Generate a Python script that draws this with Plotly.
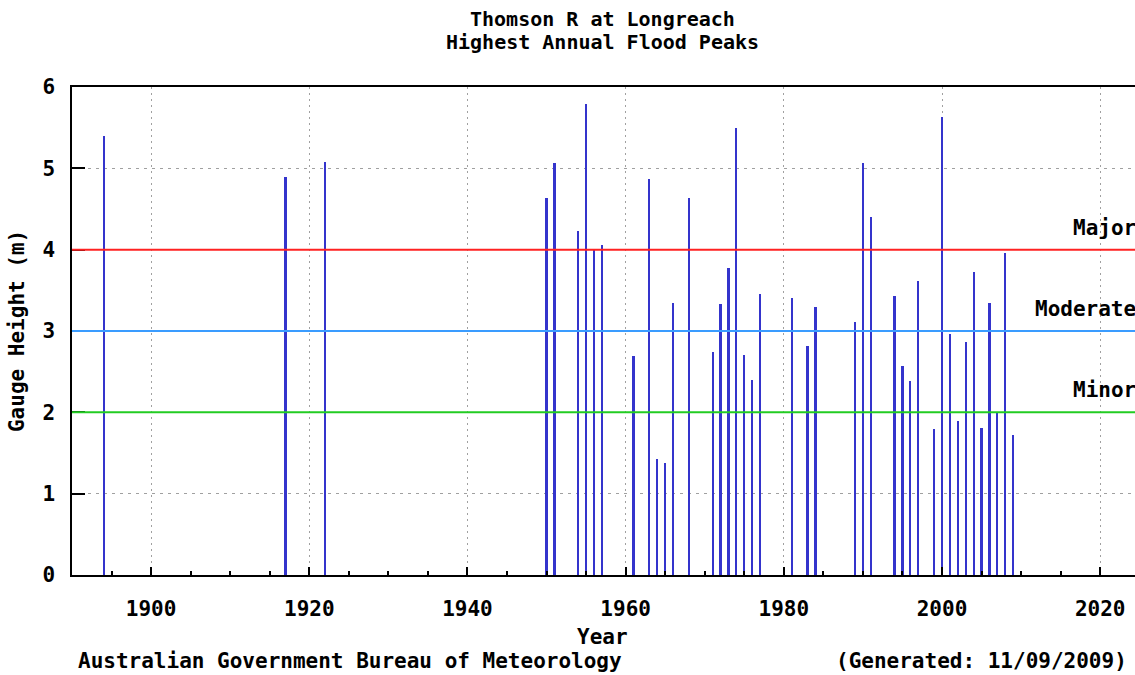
import plotly.graph_objects as go

# ---- data ----
years = [1894, 1917, 1922, 1950, 1951, 1954, 1955, 1956, 1957, 1961, 1963, 1964,
         1965, 1966, 1968, 1971, 1972, 1973, 1974, 1975, 1976, 1977, 1981, 1983,
         1984, 1989, 1990, 1991, 1994, 1995, 1996, 1997, 1999, 2000, 2001, 2002,
         2003, 2004, 2005, 2006, 2007, 2008, 2009]
heights = [5.40, 4.89, 5.08, 4.64, 5.06, 4.23, 5.79, 4.00, 4.06, 2.69, 4.87, 1.43,
           1.38, 3.35, 4.64, 2.74, 3.33, 3.77, 5.50, 2.70, 2.40, 3.45, 3.40, 2.81,
           3.30, 3.11, 5.06, 4.40, 3.43, 2.57, 2.38, 3.62, 1.79, 5.63, 2.96, 1.89,
           2.86, 3.72, 1.81, 3.35, 2.00, 3.96, 1.72]

flood_names = ["Major", "Moderate", "Minor"]
flood_levels = [4, 3, 2]
flood_colors = ["#ff2222", "#3a9cff", "#22cc22"]

x_range = [1890, 2024.4]
y_range = [0, 6]
x_ticks = [1900, 1920, 1940, 1960, 1980, 2000, 2020]
y_ticks = [0, 1, 2, 3, 4, 5, 6]

title_lines = ["Thomson R at Longreach", "Highest Annual Flood Peaks"]
x_title = "Year"
y_title = "Gauge Height (m)"
footer_left = "Australian Government Bureau of Meteorology"
footer_right = "(Generated: 11/09/2009)"

FONT = "DejaVu Sans Mono"
FS = 21
font = dict(family=FONT, size=FS, color="black", weight="bold")
title_font = dict(family=FONT, size=20, color="black", weight="bold")

fig = go.Figure()

fig.add_trace(go.Bar(
    x=years, y=heights, width=0.28,
    marker=dict(color="#3434cc", line=dict(width=0)),
    hoverinfo="x+y", showlegend=False,
))

for name, lvl, col in zip(flood_names, flood_levels, flood_colors):
    fig.add_shape(type="line", xref="paper", x0=0, x1=1, yref="y", y0=lvl, y1=lvl,
                  line=dict(color=col, width=2), layer="above")
    fig.add_annotation(text=name, xref="paper", x=1.0025, xanchor="right",
                       yref="y", y=lvl, yanchor="middle", yshift=22,
                       showarrow=False, font=font)

# titles & footers
fig.add_annotation(text=title_lines[0], xref="paper", yref="paper", x=0.4995,
                   y=(574.6 - 19) / 487.5,
                   xanchor="center", yanchor="middle", showarrow=False, font=title_font)
fig.add_annotation(text=title_lines[1], xref="paper", yref="paper", x=0.4995,
                   y=(574.6 - 42) / 487.5,
                   xanchor="center", yanchor="middle", showarrow=False, font=title_font)
fig.add_annotation(text=x_title, xref="paper", yref="paper", x=0.4995, y=-0.128,
                   xanchor="center", yanchor="middle", showarrow=False, font=font)
fig.add_annotation(text=y_title, xref="paper", yref="paper", x=-0.0517, y=0.5,
                   xanchor="center", yanchor="middle", textangle=-90,
                   showarrow=False, font=font)
fig.add_annotation(text=footer_left, xref="paper", yref="paper", x=0.0035,
                   y=(574.6 - 661) / 487.5,
                   xanchor="left", yanchor="middle", showarrow=False, font=font)
fig.add_annotation(text=footer_right, xref="paper", yref="paper", x=0.9945,
                   y=(574.6 - 661) / 487.5,
                   xanchor="right", yanchor="middle", showarrow=False, font=font)

fig.update_layout(
    width=1135, height=675,
    margin=dict(l=72, r=0, t=87, b=100, pad=0),
    paper_bgcolor="white", plot_bgcolor="white",
    font=font,
    bargap=0,
)
fig.update_xaxes(
    range=x_range, tickvals=x_ticks, ticktext=[str(v) for v in x_ticks],
    ticks="inside", ticklen=8, tickwidth=1.5, tickcolor="black",
    showline=True, linecolor="black", linewidth=1.5, mirror=True,
    showgrid=True, gridcolor="#a0a0a0", gridwidth=1, griddash="2px,4px",
    zeroline=False, ticklabelstandoff=14, tickfont=font,
    minor=dict(dtick=5, tick0=1890, ticks="inside", ticklen=4, tickwidth=1.5,
               tickcolor="black", showgrid=False),
)
fig.update_yaxes(
    range=y_range, tickvals=y_ticks, ticktext=[str(v) for v in y_ticks],
    ticks="inside", ticklen=13, tickwidth=1.5, tickcolor="black",
    showline=True, linecolor="black", linewidth=1.5, mirror=False,
    showgrid=True, gridcolor="#a0a0a0", gridwidth=1, griddash="3px,5px",
    zeroline=False, ticklabelstandoff=11, tickfont=font,
)

fig.write_html(
    "out.html",
    config={"displayModeBar": False},
    post_script="document.body.style.margin='0px';document.body.style.overflow='hidden';",
)
